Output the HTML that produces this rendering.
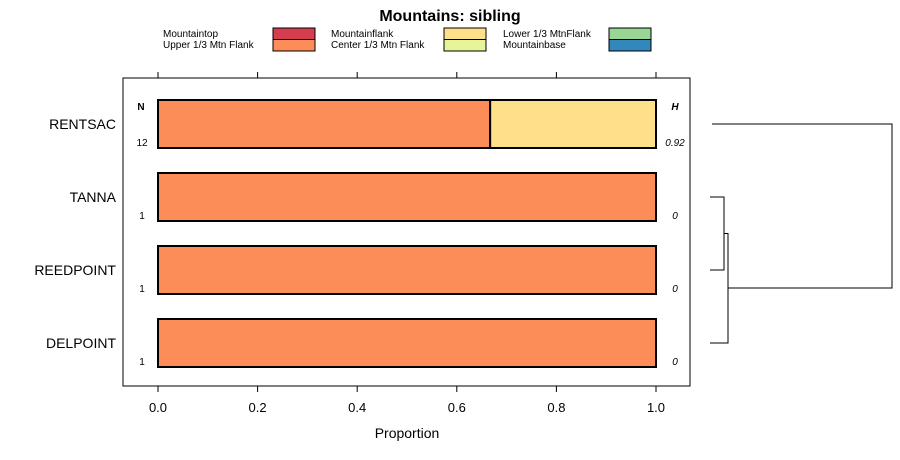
<!DOCTYPE html>
<html><head><meta charset="utf-8"><style>
body{margin:0;background:#fff}
svg{display:block;font-family:"Liberation Sans",sans-serif}
</style></head><body>
<svg id="c" width="900" height="460" viewBox="0 0 900 460">
<text x="450" y="21" text-anchor="middle" font-size="16" font-weight="bold">Mountains: sibling</text>
<g id="legend"></g>
<rect x="123" y="78" width="567" height="308" fill="none" stroke="#000"/>
<g id="axes"></g>
<g id="bars"></g>
<g id="dendro" stroke="#000" fill="none"></g>
<text x="407" y="438" text-anchor="middle" font-size="14">Proportion</text>
</svg>
<script>
const categories=["Mountaintop","Upper 1/3 Mtn Flank","Mountainflank","Center 1/3 Mtn Flank","Lower 1/3 MtnFlank","Mountainbase"];
const colors=["#d53e4f","#fc8d59","#fee08b","#e6f598","#99d594","#3288bd"];
const sites=["RENTSAC","TANNA","REEDPOINT","DELPOINT"];
const counts=[12,1,1,1];
const entropy=["0.92","0","0","0"];
const v0=[0,0,0,0];
const v1=[0.667,1,1,1];
const v2=[0.333,0,0,0];
const v3=[0,0,0,0];
const v4=[0,0,0,0];
const v5=[0,0,0,0];
const series=[v0,v1,v2,v3,v4,v5];
const ticks=[0,0.2,0.4,0.6,0.8,1.0];
const tickLabels=["0.0","0.2","0.4","0.6","0.8","1.0"];
const NS="http://www.w3.org/2000/svg";
const x=v=>158+v*498;
const yc=i=>124+i*73;
function mk(p,t,a){const e=document.createElementNS(NS,t);for(const k in a)e.setAttribute(k,a[k]);p.appendChild(e);return e;}
const L=document.getElementById('legend');
const lx=[163,331,503],sx=[273,444,609];
categories.forEach((c,i)=>{const col=Math.floor(i/2),row=i%2;
 const t=mk(L,'text',{x:lx[col],y:37+row*11,'font-size':10});t.textContent=c;
 
 
 const r=mk(L,'rect',{x:sx[col],y:28+row*11.5,width:42,height:11.5,fill:colors[i],stroke:'#000'});
 
 
});
const A=document.getElementById('axes');
ticks.forEach((t,i)=>{
 mk(A,'line',{x1:x(t),x2:x(t),y1:72,y2:78,stroke:'#000'});
 mk(A,'line',{x1:x(t),x2:x(t),y1:386,y2:392,stroke:'#000'});
 const l=mk(A,'text',{x:x(t),y:412,'text-anchor':'middle','font-size':13});l.textContent=tickLabels[i];
 
 
});
let h=mk(A,'text',{x:141,y:110,'text-anchor':'middle','font-size':10,'font-weight':'bold'});h.textContent='N';
h=mk(A,'text',{x:675,y:110,'text-anchor':'middle','font-size':10,'font-weight':'bold','font-style':'italic'});h.textContent='H';
const B=document.getElementById('bars');
sites.forEach((s,i)=>{
 const y=yc(i);
 const l=mk(B,'text',{x:116,y:y+5,'text-anchor':'end','font-size':14});l.textContent=s;
 
 
 const n=mk(B,'text',{x:142,y:y+22,'text-anchor':'middle','font-size':10});n.textContent=counts[i];
 
 
 const e=mk(B,'text',{x:675,y:y+22,'text-anchor':'middle','font-size':10,'font-style':'italic'});e.textContent=entropy[i];
 
 
 let cum=0;
 series.forEach((ser,k)=>{const v=ser[i];if(v>0){
  const r=mk(B,'rect',{x:x(cum),y:y-24,width:x(cum+v)-x(cum),height:48,fill:colors[k],stroke:'#000','stroke-width':2});
  
  
 }cum+=v;});
});
const D=document.getElementById('dendro');
const seg=d=>mk(D,'path',{d:d});
seg(`M712 ${yc(0)}H892V288H728`);
seg(`M710 ${yc(1)}H724V${yc(2)}H710`);
seg(`M724 ${(yc(1)+yc(2))/2}H728V${yc(3)}H710`);
</script>
</body></html>
